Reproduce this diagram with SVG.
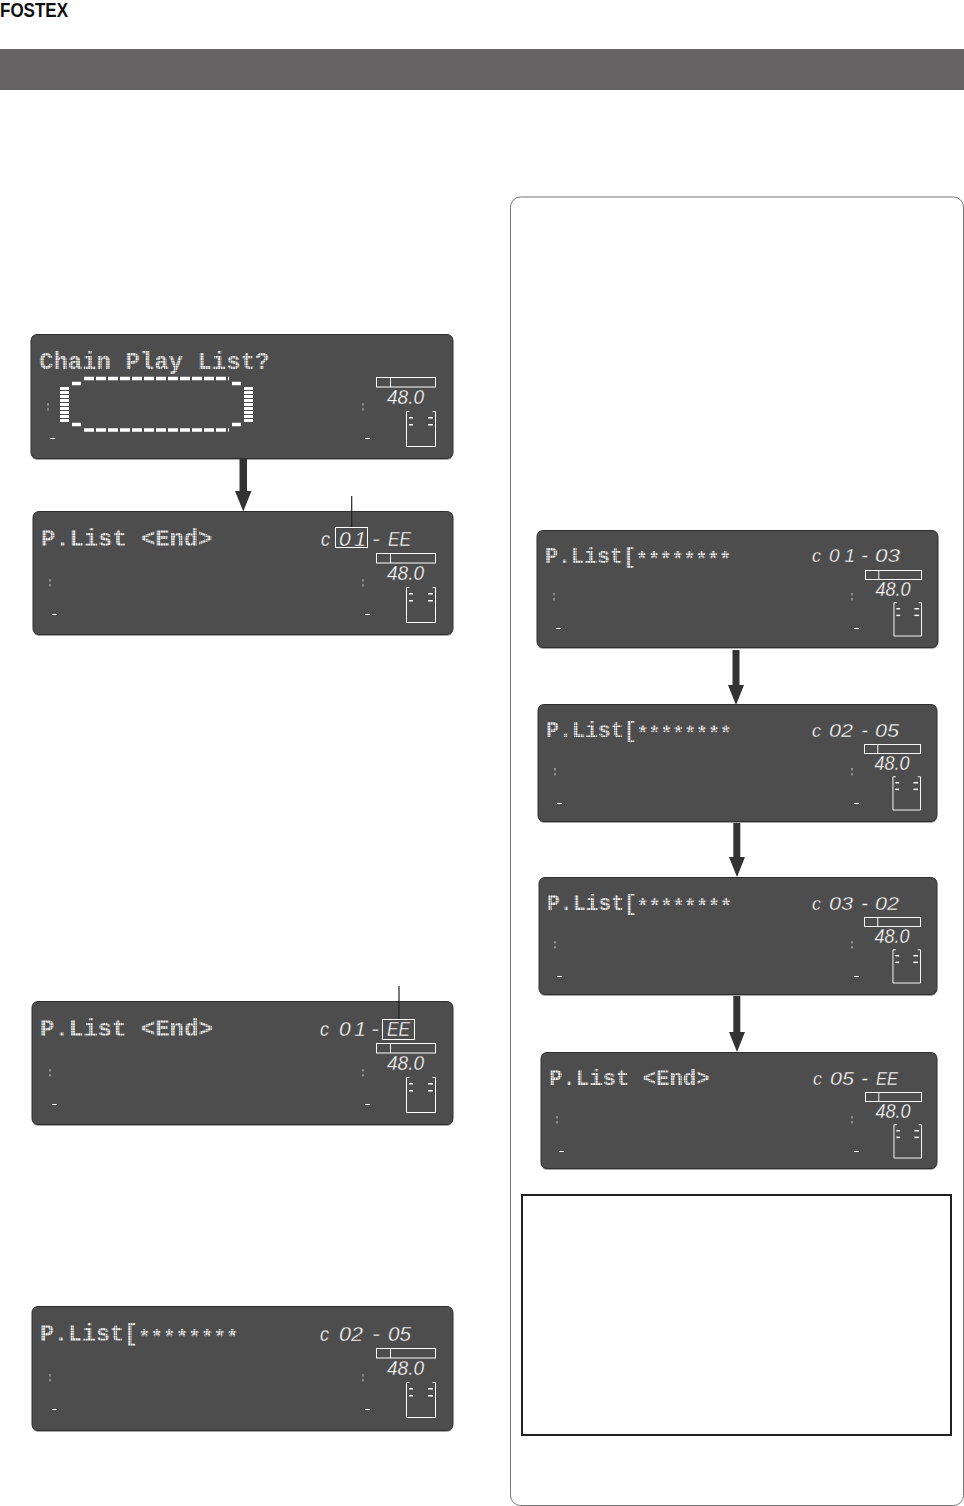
<svg xmlns="http://www.w3.org/2000/svg" width="964" height="1506" viewBox="0 0 964 1506">
<style>
.panel{fill:#4d4d4d;stroke:#2e2e2e;stroke-width:1}
.shadow{fill:#a8a8a8}
.lcd{font-family:"Liberation Mono","DejaVu Sans Mono",monospace;font-weight:700;fill:#fff}
.seg{font-family:"Liberation Sans",Arial,sans-serif;font-style:italic;fill:#fff;stroke:#4d4d4d;stroke-width:.35;font-size:21px}
.sm{font-size:19px}
.fine{fill:none;stroke:#fff;stroke-width:1}
.dim{fill:#8a8a8a}
.w{fill:#fff}
.shaft{fill:#333}
.lead{stroke:#222;stroke-width:1.200;fill:none}
.grid{fill:url(#dots)}
</style>
<defs>
<pattern id="dots" width="2.500" height="2.500" patternUnits="userSpaceOnUse">
<path d="M0 .3H2.500M.3 0V2.500" stroke="#4d4d4d" stroke-width=".55" fill="none"/>
</pattern>
<g id="meter">
<rect class="fine" x=".5" y=".5" width="59" height="9.500"/>
<line class="fine" x1="14.500" y1="0" x2="14.500" y2="10"/>
<text class="seg" x="11" y="27" textLength="37" lengthAdjust="spacingAndGlyphs">48.0</text>
<path class="fine" d="M33.500 34.500H30.500V69.500H59.500V34.500H56.500"/>
<rect class="w" x="33" y="40" width="4" height="1.500"/><rect class="w" x="52" y="40" width="5" height="1.500"/>
<rect class="w" x="33" y="47" width="4" height="1.500"/><rect class="w" x="52" y="47" width="5" height="1.500"/>
</g>
<g id="marksL">
<rect class="dim" x="0" y="0" width="2" height="2.500"/><rect class="dim" x="0" y="5" width="2" height="2.500"/>
<rect class="w" x="3" y="35" width="5" height="1"/>
</g>
</defs>
<rect width="964" height="1506" fill="#fff"/>
<text id="logo" x="0" y="17" font-family="'Liberation Sans',Arial,sans-serif" font-weight="700" font-size="21" fill="#111" textLength="68" lengthAdjust="spacingAndGlyphs">FOSTEX</text>
<rect id="header-band" x="0" y="49" width="964" height="41" fill="#656363"/>
<rect id="sidebar" x="510.500" y="197" width="453" height="1308.500" rx="10" fill="#fff" stroke="#777" stroke-width="1"/>
<rect id="note-box" x="522" y="1195" width="429" height="240" fill="#fff" stroke="#231f20" stroke-width="2"/>

<g id="panel-1">
<rect class="shadow" x="31" y="336" width="422" height="124" rx="6"/>
<rect class="panel" x="31" y="334.500" width="422" height="124" rx="6"/>
<text class="lcd" x="39" y="369" font-size="24">Chain Play List?</text>
<rect class="grid" x="36" y="348" width="236" height="27"/>
<use href="#meter" x="376" y="377"/>
<use href="#marksL" x="47" y="403"/><use href="#marksL" x="362" y="403"/>
<g fill="none" stroke="#fff">
<path stroke-width="3.500" stroke-dasharray="10 2" d="M84 378.500H229M84 430H229"/>
<path stroke-width="9" stroke-dasharray="3 1" d="M64.500 387V423M248.500 387V423"/>
<path stroke-width="3.500" d="M72 383.500H81M232 383.500H241M72 424.500H81M232 424.500H241"/>
</g>
</g>

<g id="panel-2">
<rect class="shadow" x="33" y="513" width="420" height="123" rx="6"/>
<rect class="panel" x="33" y="511.500" width="420" height="123" rx="6"/>
<text class="lcd" x="41" y="546" font-size="23.800">P.List &lt;End&gt;</text>
<rect class="grid" x="38" y="525" width="178" height="27"/>
<text class="seg" x="321" y="546" textLength="9" lengthAdjust="spacingAndGlyphs">c</text>
<text class="seg" x="339" y="546" textLength="27" lengthAdjust="spacing">0 1</text>
<text class="seg" x="372" y="546" textLength="8" lengthAdjust="spacingAndGlyphs">-</text>
<text class="seg" x="388" y="546" textLength="23" lengthAdjust="spacingAndGlyphs">EE</text>
<use href="#meter" x="376" y="553"/>
<use href="#marksL" x="49" y="579"/><use href="#marksL" x="362" y="579"/>
<rect class="fine" x="335.500" y="527.500" width="32" height="20"/>
</g>

<g id="panel-3">
<rect class="shadow" x="32" y="1003" width="421" height="123" rx="6"/>
<rect class="panel" x="32" y="1001.500" width="421" height="123" rx="6"/>
<text class="lcd" x="40" y="1036" font-size="24">P.List &lt;End&gt;</text>
<rect class="grid" x="37" y="1015" width="180" height="27"/>
<text class="seg" x="320" y="1036" textLength="9" lengthAdjust="spacingAndGlyphs">c</text>
<text class="seg" x="339" y="1036" textLength="27" lengthAdjust="spacing">0 1</text>
<text class="seg" x="371" y="1036" textLength="8" lengthAdjust="spacingAndGlyphs">-</text>
<text class="seg" x="387" y="1036" textLength="23" lengthAdjust="spacingAndGlyphs">EE</text>
<use href="#meter" x="376" y="1043"/>
<use href="#marksL" x="49" y="1069"/><use href="#marksL" x="362" y="1069"/>
<rect class="fine" x="382.500" y="1019.500" width="32" height="20"/>
</g>

<g id="panel-4">
<rect class="shadow" x="32" y="1308" width="421" height="124" rx="6"/>
<rect class="panel" x="32" y="1306.500" width="421" height="124" rx="6"/>
<text class="lcd" x="40" y="1341" font-size="23.300">P.List[<tspan font-size="21" dy="3">********</tspan></text>
<rect class="grid" x="37" y="1320" width="207" height="27"/>
<text class="seg" x="320" y="1341" textLength="9" lengthAdjust="spacingAndGlyphs">c</text>
<text class="seg" x="339" y="1341" textLength="24" lengthAdjust="spacingAndGlyphs">02</text>
<text class="seg" x="372" y="1341" textLength="8" lengthAdjust="spacingAndGlyphs">-</text>
<text class="seg" x="388" y="1341" textLength="23" lengthAdjust="spacingAndGlyphs">05</text>
<use href="#meter" x="376" y="1348"/>
<use href="#marksL" x="49" y="1374"/><use href="#marksL" x="362" y="1374"/>
</g>

<g id="panel-r1">
<rect class="shadow" x="537" y="532" width="401" height="117" rx="6"/>
<rect class="panel" x="537" y="530.500" width="401" height="117" rx="6"/>
<text class="lcd" x="545" y="563" font-size="21.700">P.List[<tspan font-size="19.800" dy="3">********</tspan></text>
<rect class="grid" x="542" y="544" width="197" height="25"/>
<text class="seg sm" x="812" y="562" textLength="9" lengthAdjust="spacingAndGlyphs">c</text>
<text class="seg sm" x="829" y="562" textLength="26" lengthAdjust="spacing">0 1</text>
<text class="seg sm" x="861" y="562" textLength="7" lengthAdjust="spacingAndGlyphs">-</text>
<text class="seg sm" x="875" y="562" textLength="25" lengthAdjust="spacingAndGlyphs">03</text>
<use href="#meter" transform="translate(865 570) scale(.95)"/>
<use href="#marksL" x="553" y="593"/><use href="#marksL" x="851" y="593"/>
</g>

<g id="panel-r2">
<rect class="shadow" x="538" y="706" width="399" height="117" rx="6"/>
<rect class="panel" x="538" y="704.500" width="399" height="117" rx="6"/>
<text class="lcd" x="546" y="737" font-size="21.600">P.List[<tspan font-size="19.800" dy="3">********</tspan></text>
<rect class="grid" x="543" y="718" width="196" height="25"/>
<text class="seg sm" x="812" y="737" textLength="9" lengthAdjust="spacingAndGlyphs">c</text>
<text class="seg sm" x="829" y="737" textLength="24" lengthAdjust="spacingAndGlyphs">02</text>
<text class="seg sm" x="861" y="737" textLength="7" lengthAdjust="spacingAndGlyphs">-</text>
<text class="seg sm" x="875" y="737" textLength="24" lengthAdjust="spacingAndGlyphs">05</text>
<use href="#meter" transform="translate(864 744) scale(.95)"/>
<use href="#marksL" x="554" y="768"/><use href="#marksL" x="851" y="768"/>
</g>

<g id="panel-r3">
<rect class="shadow" x="539" y="879" width="398" height="117" rx="6"/>
<rect class="panel" x="539" y="877.500" width="398" height="117" rx="6"/>
<text class="lcd" x="547" y="910" font-size="21.400">P.List[<tspan font-size="19.800" dy="3">********</tspan></text>
<rect class="grid" x="544" y="891" width="195" height="25"/>
<text class="seg sm" x="812" y="910" textLength="9" lengthAdjust="spacingAndGlyphs">c</text>
<text class="seg sm" x="829" y="910" textLength="24" lengthAdjust="spacingAndGlyphs">03</text>
<text class="seg sm" x="861" y="910" textLength="7" lengthAdjust="spacingAndGlyphs">-</text>
<text class="seg sm" x="875" y="910" textLength="24" lengthAdjust="spacingAndGlyphs">02</text>
<use href="#meter" transform="translate(864 917) scale(.95)"/>
<use href="#marksL" x="554" y="941"/><use href="#marksL" x="851" y="941"/>
</g>

<g id="panel-r4">
<rect class="shadow" x="541" y="1054" width="396" height="116" rx="6"/>
<rect class="panel" x="541" y="1052.500" width="396" height="116" rx="6"/>
<text class="lcd" x="549" y="1085" font-size="22.300">P.List &lt;End&gt;</text>
<rect class="grid" x="546" y="1066" width="168" height="25"/>
<text class="seg sm" x="813" y="1085" textLength="9" lengthAdjust="spacingAndGlyphs">c</text>
<text class="seg sm" x="830" y="1085" textLength="24" lengthAdjust="spacingAndGlyphs">05</text>
<text class="seg sm" x="861" y="1085" textLength="7" lengthAdjust="spacingAndGlyphs">-</text>
<text class="seg sm" x="876" y="1085" textLength="22" lengthAdjust="spacingAndGlyphs">EE</text>
<use href="#meter" transform="translate(865 1092) scale(.95)"/>
<use href="#marksL" x="556" y="1116"/><use href="#marksL" x="851" y="1116"/>
</g>

<g id="connectors">
<path class="shaft" d="M239.500 459H247V491H251.500L243.250 511.500L235 491H239.500Z"/>
<path class="shaft" d="M732.500 650H739.500V685H744L736 705L728 685H732.500Z"/>
<path class="shaft" d="M733.300 823H740.300V857H745L737 877L729 857H733.300Z"/>
<path class="shaft" d="M733.300 996H740.300V1032H745L737 1052L729 1032H733.300Z"/>
<line class="lead" x1="351.700" y1="496" x2="351.700" y2="527"/>
<line class="lead" x1="399" y1="986" x2="399" y2="1019"/>
</g>
</svg>
